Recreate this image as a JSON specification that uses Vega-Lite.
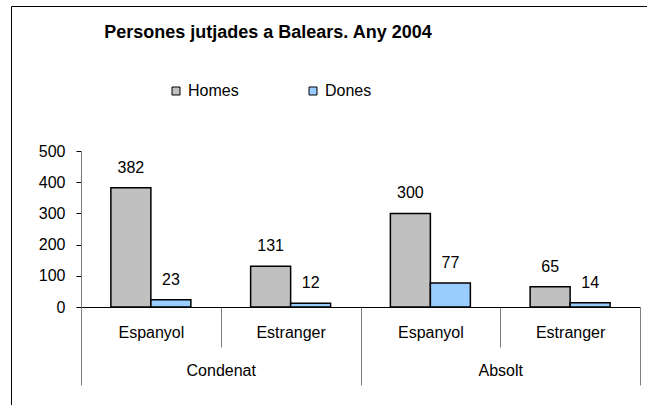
{
  "$schema": "https://vega.github.io/schema/vega-lite/v6.json",
  "width": 640,
  "height": 400,
  "autosize": "none",
  "padding": {"left": 11, "top": 6, "right": 0, "bottom": 0},
  "background": "white",
  "config": {
    "font": "Liberation Sans",
    "view": {"stroke": "black", "strokeWidth": 1},
    "axis": {"labelFont": "Liberation Sans", "labelFontSize": 16, "labelColor": "black", "grid": false, "title": null}
  },
  "title": {
    "text": "Persones jutjades a Balears. Any 2004",
    "font": "Liberation Sans",
    "fontSize": 18,
    "fontWeight": "bold",
    "color": "black",
    "anchor": "middle",
    "baseline": "alphabetic",
    "dx": -63,
    "dy": 17,
    "offset": -33
  },
  "data": {
    "values": [
      {"cat": "Condenat|Espanyol", "grup": "Condenat", "sexe": "Homes", "valor": 382},
      {"cat": "Condenat|Espanyol", "grup": "Condenat", "sexe": "Dones", "valor": 23},
      {"cat": "Condenat|Estranger", "grup": "Condenat", "sexe": "Homes", "valor": 131},
      {"cat": "Condenat|Estranger", "grup": "Condenat", "sexe": "Dones", "valor": 12},
      {"cat": "Absolt|Espanyol", "grup": "Absolt", "sexe": "Homes", "valor": 300},
      {"cat": "Absolt|Espanyol", "grup": "Absolt", "sexe": "Dones", "valor": 77},
      {"cat": "Absolt|Estranger", "grup": "Absolt", "sexe": "Homes", "valor": 65},
      {"cat": "Absolt|Estranger", "grup": "Absolt", "sexe": "Dones", "valor": 14}
    ]
  },
  "layer": [
    {
      "layer": [
        {
          "mark": {"type": "bar", "stroke": "black", "strokeWidth": 1.5},
          "encoding": {
            "x": {
              "field": "cat", "type": "nominal",
              "sort": ["Condenat|Espanyol", "Condenat|Estranger", "Absolt|Espanyol", "Absolt|Estranger"],
              "scale": {"range": [70, 629], "paddingInner": 0, "paddingOuter": 0},
              "axis": {
                "orient": "bottom", "offset": -99, "labelAngle": 0,
                "labelExpr": "split(datum.label, '|')[1]",
                "tickBand": "extent", "tickSize": 40, "tickColor": "#808080", "tickWidth": 1,
                "domainColor": "black", "domainWidth": 1, "labelPadding": -23
              }
            },
            "xOffset": {
              "field": "sexe", "type": "nominal", "sort": ["Homes", "Dones"],
              "scale": {"paddingOuter": 0.747, "paddingInner": 0}
            },
            "y": {
              "field": "valor", "type": "quantitative",
              "scale": {"domain": [0, 500], "range": [301, 145], "nice": false},
              "axis": {
                "offset": -70, "values": [0, 100, 200, 300, 400, 500],
                "domainColor": "#808080", "tickColor": "black", "tickSize": 5,
                "labelPadding": 11
              }
            },
            "color": {
              "field": "sexe", "type": "nominal", "sort": ["Homes", "Dones"],
              "scale": {"domain": ["Homes", "Dones"], "range": ["#C0C0C0", "#99CCFF"]},
              "legend": {
                "orient": "none", "legendX": 157, "legendY": 77, "direction": "horizontal",
                "title": null, "symbolType": "square", "symbolSize": 64,
                "symbolStrokeColor": "black", "symbolStrokeWidth": 1,
                "labelFont": "Liberation Sans", "labelFontSize": 16, "labelColor": "black",
                "labelOffset": 4, "columnPadding": 66, "padding": 0
              }
            }
          }
        },
        {
          "mark": {"type": "text", "baseline": "alphabetic", "dy": -15, "font": "Liberation Sans", "fontSize": 16, "color": "black"},
          "encoding": {
            "x": {"field": "cat", "type": "nominal", "sort": ["Condenat|Espanyol", "Condenat|Estranger", "Absolt|Espanyol", "Absolt|Estranger"]},
            "xOffset": {"field": "sexe", "type": "nominal", "sort": ["Homes", "Dones"]},
            "y": {"field": "valor", "type": "quantitative"},
            "text": {"field": "valor", "type": "quantitative"}
          }
        }
      ]
    },
    {
      "mark": {"type": "point", "opacity": 0},
      "encoding": {
        "x": {
          "field": "grup", "type": "nominal", "sort": ["Condenat", "Absolt"],
          "scale": {"range": [70, 629], "paddingInner": 0, "paddingOuter": 0},
          "axis": {
            "orient": "bottom", "offset": -99, "labelAngle": 0,
            "domain": false, "tickBand": "extent", "tickSize": 78,
            "tickColor": "#808080", "tickWidth": 1, "labelPadding": -23
          }
        }
      }
    }
  ],
  "resolve": {"scale": {"x": "independent"}, "axis": {"x": "independent"}}
}
